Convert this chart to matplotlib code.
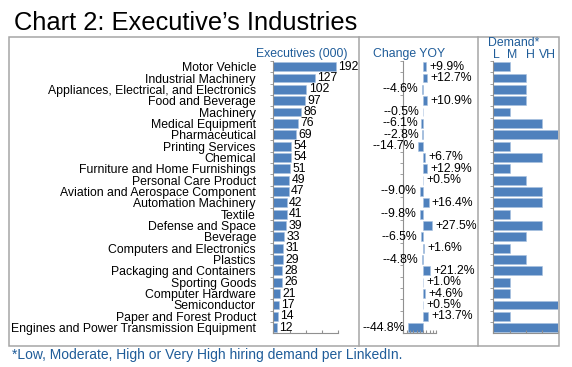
import matplotlib
matplotlib.use("Agg")
import matplotlib.pyplot as plt
from matplotlib.lines import Line2D
from matplotlib.patches import Rectangle
import numpy as np

plt.rcParams['font.family'] = ['Liberation Sans', 'DejaVu Sans']

industries = [
    "Motor Vehicle", "Industrial Machinery", "Appliances, Electrical, and Electronics",
    "Food and Beverage", "Machinery", "Medical Equipment", "Pharmaceutical",
    "Printing Services", "Chemical", "Furniture and Home Furnishings",
    "Personal Care Product", "Aviation and Aerospace Component", "Automation Machinery",
    "Textile", "Defense and Space", "Beverage", "Computers and Electronics", "Plastics",
    "Packaging and Containers", "Sporting Goods", "Computer Hardware", "Semiconductor",
    "Paper and Forest Product", "Engines and Power Transmission Equipment",
]
executives = [192, 127, 102, 97, 86, 76, 69, 54, 54, 51, 49, 47, 42, 41, 39, 33, 31, 29,
              28, 26, 21, 17, 14, 12]
change_yoy = [9.9, 12.7, -4.6, 10.9, -0.5, -6.1, -2.8, -14.7, 6.7, 12.9, 0.5, -9.0, 16.4,
              -9.8, 27.5, -6.5, 1.6, -4.8, 21.2, 1.0, 4.6, 0.5, 13.7, -44.8]
# 1 = Low, 2 = Moderate, 3 = High, 4 = Very High
demand = [1, 2, 2, 2, 1, 3, 4, 1, 3, 1, 2, 3, 3, 1, 3, 2, 1, 2, 3, 1, 1, 4, 1, 4]
demand_labels = ["L", "M", "H", "VH"]

W, H = 572, 367
fig = plt.figure(figsize=(W / 100, H / 100), dpi=100)

BAR = "#4F81BD"
TXTBLUE = "#1F5C99"
GRAY = "#A6A6A6"
AXGRAY = "#909090"
FS = 8.8

top_px, bot_px = 61, 333.3
def axes_px(x0, x1):
    return fig.add_axes([x0 / W, (H - bot_px) / H, (x1 - x0) / W, (bot_px - top_px) / H])

n = len(industries)
y = np.arange(n)

def style(ax):
    for s in ["top", "right"]:
        ax.spines[s].set_visible(False)
    for s in ["left", "bottom"]:
        ax.spines[s].set_color(AXGRAY)
        ax.spines[s].set_linewidth(0.8)
    ax.set_ylim(n - 0.5, -0.5)
    ax.set_yticks(y - 0.5, minor=True)
    ax.tick_params(axis="y", which="minor", length=2.5, color=AXGRAY, direction="out")
    ax.tick_params(axis="x", which="both", length=2.5, color=AXGRAY, direction="in",
                   labelbottom=False)
    ax.patch.set_alpha(0)

# Executives panel
ax1 = axes_px(273.3, 338.3)
ax1.barh(y, executives, height=0.78, color=BAR, edgecolor="#A9C1E0", linewidth=0.4)
ax1.set_xlim(0, 200)
ax1.set_xticks([0, 50, 100, 150, 200])
style(ax1)
ax1.set_yticks(y)
ax1.set_yticklabels(industries, fontsize=FS)
ax1.tick_params(axis="y", which="major", length=0, pad=12.5)
for yi, v in zip(y, executives):
    ax1.annotate(str(v), (v, yi), xytext=(1.6, 0), textcoords="offset points",
                 ha="left", va="center", fontsize=FS)

# Change YOY panel
ax2 = axes_px(403.3, 436.3)
ax2.barh(y, change_yoy, height=0.78, color=BAR, edgecolor="#A9C1E0", linewidth=0.4)
ax2.set_xlim(-60, 40)
ax2.set_xticks(np.arange(-60, 41, 10))
style(ax2)
ax2.set_yticks([])
for yi, v in zip(y, change_yoy):
    if v >= 0:
        ax2.annotate(f"+{v:.1f}%", (v, yi), xytext=(2.4, 0), textcoords="offset points",
                     ha="left", va="center", fontsize=FS)
    else:
        ax2.annotate(f"-{v:.1f}%", (v, yi), xytext=(-2.4, 0), textcoords="offset points",
                     ha="right", va="center", fontsize=FS)

# Demand panel
ax3 = axes_px(493.3, 558.3)
ax3.barh(y, demand, height=0.78, color=BAR, edgecolor="#A9C1E0", linewidth=0.4)
ax3.set_xlim(0, 4)
ax3.set_xticks([0, 1, 2, 3, 4])
style(ax3)
ax3.set_yticks([])

# Headers
fig.text(348 / W, 1 - 54.5 / H, "Executives (000)", ha="right", va="center",
         fontsize=FS, color=TXTBLUE)
fig.text(373 / W, 1 - 54.5 / H, "Change YOY", ha="left", va="center",
         fontsize=FS, color=TXTBLUE)
fig.text(488 / W, 1 - 43.5 / H, "Demand*", ha="left", va="center",
         fontsize=FS, color=TXTBLUE)
for lab, xp in zip(demand_labels, [496.5, 512.5, 530, 547]):
    fig.text(xp / W, 1 - 54.5 / H, lab, ha="center", va="center",
             fontsize=FS, color=TXTBLUE)

# Frame
lw = 1.1
fig.add_artist(Rectangle((8.5 / W, 1 - 345.7 / H), (559.3 - 8.5) / W, (345.7 - 37.3) / H,
                         transform=fig.transFigure, fill=False, edgecolor=GRAY, linewidth=lw))
for xp in [359.3, 478.3]:
    fig.add_artist(Line2D([xp / W, xp / W], [1 - 345.7 / H, 1 - 37.3 / H],
                          transform=fig.transFigure, color=GRAY, linewidth=lw))

# Title and footnote
fig.text(14 / W, 1 - 29.5 / H, "Chart 2: Executive\u2019s Industries", ha="left",
         va="baseline", fontsize=18.4, color="black")
fig.text(11.5 / W, 1 - 355 / H,
         "*Low, Moderate, High or Very High hiring demand per LinkedIn.",
         ha="left", va="center", fontsize=10, color=TXTBLUE)

fig.savefig("out.png", dpi=100)
